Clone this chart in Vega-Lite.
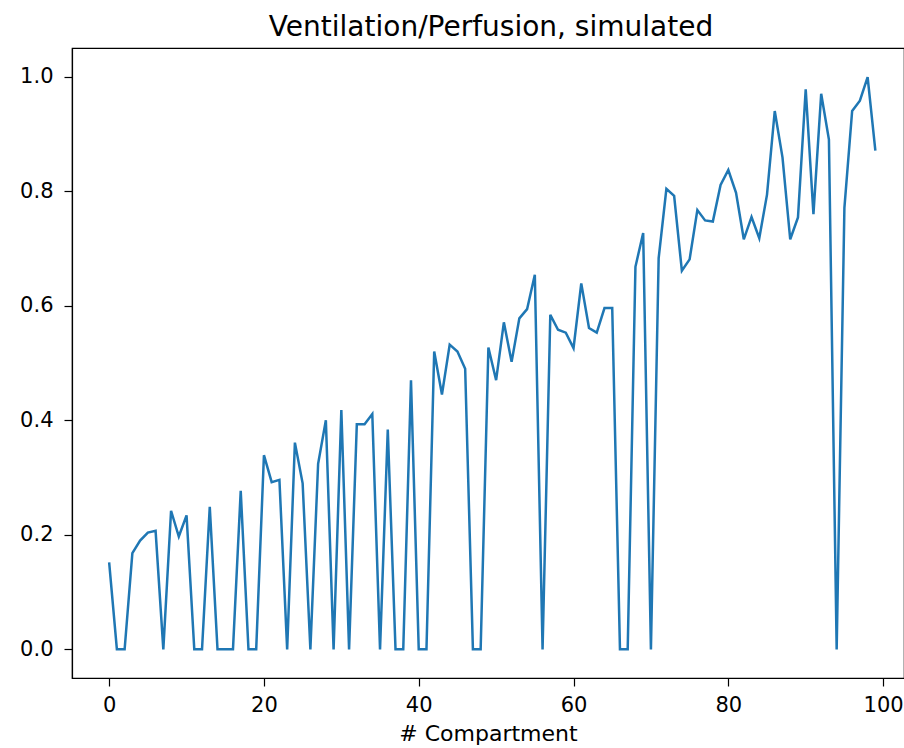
{
  "$schema": "https://vega.github.io/schema/vega-lite/v6.json",
  "autosize": {"type": "none"},
  "padding": {"left": 72, "top": 48, "right": 0, "bottom": 70},
  "width": 832,
  "height": 630,
  "background": "white",
  "title": {
    "text": "Ventilation/Perfusion, simulated",
    "font": "DejaVu Sans",
    "fontSize": 28,
    "fontWeight": "normal",
    "color": "#000000",
    "baseline": "alphabetic",
    "offset": 12,
    "anchor": "middle",
    "dx": 3,
    "dy": 28
  },
  "data": {
    "values": [
      {"compartment": 0, "vq": 0.152}, {"compartment": 1, "vq": 0}, {"compartment": 2, "vq": 0},
      {"compartment": 3, "vq": 0.168}, {"compartment": 4, "vq": 0.19}, {"compartment": 5, "vq": 0.204},
      {"compartment": 6, "vq": 0.207}, {"compartment": 7, "vq": 0}, {"compartment": 8, "vq": 0.242},
      {"compartment": 9, "vq": 0.197}, {"compartment": 10, "vq": 0.234}, {"compartment": 11, "vq": 0},
      {"compartment": 12, "vq": 0}, {"compartment": 13, "vq": 0.249}, {"compartment": 14, "vq": 0},
      {"compartment": 15, "vq": 0}, {"compartment": 16, "vq": 0}, {"compartment": 17, "vq": 0.277},
      {"compartment": 18, "vq": 0}, {"compartment": 19, "vq": 0}, {"compartment": 20, "vq": 0.339},
      {"compartment": 21, "vq": 0.292}, {"compartment": 22, "vq": 0.296}, {"compartment": 23, "vq": 0},
      {"compartment": 24, "vq": 0.361}, {"compartment": 25, "vq": 0.29}, {"compartment": 26, "vq": 0},
      {"compartment": 27, "vq": 0.324}, {"compartment": 28, "vq": 0.4}, {"compartment": 29, "vq": 0},
      {"compartment": 30, "vq": 0.418}, {"compartment": 31, "vq": 0}, {"compartment": 32, "vq": 0.393},
      {"compartment": 33, "vq": 0.393}, {"compartment": 34, "vq": 0.411}, {"compartment": 35, "vq": 0},
      {"compartment": 36, "vq": 0.384}, {"compartment": 37, "vq": 0}, {"compartment": 38, "vq": 0},
      {"compartment": 39, "vq": 0.47}, {"compartment": 40, "vq": 0}, {"compartment": 41, "vq": 0},
      {"compartment": 42, "vq": 0.52}, {"compartment": 43, "vq": 0.445}, {"compartment": 44, "vq": 0.532},
      {"compartment": 45, "vq": 0.52}, {"compartment": 46, "vq": 0.49}, {"compartment": 47, "vq": 0},
      {"compartment": 48, "vq": 0}, {"compartment": 49, "vq": 0.527}, {"compartment": 50, "vq": 0.47},
      {"compartment": 51, "vq": 0.571}, {"compartment": 52, "vq": 0.502}, {"compartment": 53, "vq": 0.578},
      {"compartment": 54, "vq": 0.594}, {"compartment": 55, "vq": 0.654}, {"compartment": 56, "vq": 0},
      {"compartment": 57, "vq": 0.584}, {"compartment": 58, "vq": 0.558}, {"compartment": 59, "vq": 0.553},
      {"compartment": 60, "vq": 0.526}, {"compartment": 61, "vq": 0.639}, {"compartment": 62, "vq": 0.561},
      {"compartment": 63, "vq": 0.553}, {"compartment": 64, "vq": 0.596}, {"compartment": 65, "vq": 0.596},
      {"compartment": 66, "vq": 0}, {"compartment": 67, "vq": 0}, {"compartment": 68, "vq": 0.668},
      {"compartment": 69, "vq": 0.727}, {"compartment": 70, "vq": 0}, {"compartment": 71, "vq": 0.683},
      {"compartment": 72, "vq": 0.804}, {"compartment": 73, "vq": 0.792}, {"compartment": 74, "vq": 0.661},
      {"compartment": 75, "vq": 0.681}, {"compartment": 76, "vq": 0.767}, {"compartment": 77, "vq": 0.749},
      {"compartment": 78, "vq": 0.747}, {"compartment": 79, "vq": 0.811}, {"compartment": 80, "vq": 0.837},
      {"compartment": 81, "vq": 0.797}, {"compartment": 82, "vq": 0.716}, {"compartment": 83, "vq": 0.755},
      {"compartment": 84, "vq": 0.718}, {"compartment": 85, "vq": 0.794}, {"compartment": 86, "vq": 0.94},
      {"compartment": 87, "vq": 0.859}, {"compartment": 88, "vq": 0.716}, {"compartment": 89, "vq": 0.754},
      {"compartment": 90, "vq": 0.978}, {"compartment": 91, "vq": 0.76}, {"compartment": 92, "vq": 0.97},
      {"compartment": 93, "vq": 0.89}, {"compartment": 94, "vq": 0}, {"compartment": 95, "vq": 0.771},
      {"compartment": 96, "vq": 0.94}, {"compartment": 97, "vq": 0.958}, {"compartment": 98, "vq": 0.999},
      {"compartment": 99, "vq": 0.871}
    ]
  },
  "mark": {"type": "line", "color": "#1f77b4", "strokeWidth": 2.5},
  "encoding": {
    "x": {
      "field": "compartment",
      "type": "quantitative",
      "scale": {"domain": [-4.8, 102.7], "nice": false, "zero": false},
      "axis": {
        "title": "# Compartment",
        "values": [0, 20, 40, 60, 80, 100],
        "format": "d",
        "grid": false,
        "tickSize": 8,
        "labelPadding": 8,
        "titlePadding": 8
      }
    },
    "y": {
      "field": "vq",
      "type": "quantitative",
      "scale": {"domain": [-0.05, 1.05], "nice": false, "zero": false},
      "axis": {
        "title": null,
        "values": [0, 0.2, 0.4, 0.6, 0.8, 1.0],
        "format": ".1f",
        "grid": false,
        "tickSize": 8,
        "labelPadding": 11
      }
    }
  },
  "config": {
    "view": {"stroke": "#000000", "strokeWidth": 1.2},
    "axis": {
      "domainColor": "#000000",
      "domainWidth": 1.2,
      "tickColor": "#000000",
      "tickWidth": 1.2,
      "labelFont": "DejaVu Sans",
      "labelFontSize": 21,
      "labelColor": "#000000",
      "titleFont": "DejaVu Sans",
      "titleFontSize": 22,
      "titleFontWeight": "normal",
      "titleColor": "#000000"
    }
  }
}
